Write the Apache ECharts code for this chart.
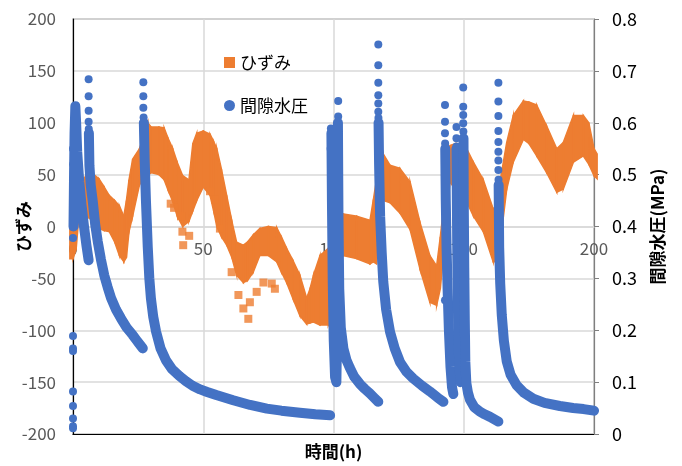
<!DOCTYPE html>
<html>
<head>
<meta charset="utf-8">
<script src="https://cdn.jsdelivr.net/npm/echarts@6/dist/echarts.min.js"></script>
<style>
html, body { margin: 0; padding: 0; background: #fff; }
#chart { width: 682px; height: 466px; }
</style>
</head>
<body>
<div id="chart"></div>
<script>
// ひずみ: 帯の上下端 (時間, 上端, 下端)
var strainX  = [-1.2, 0, 1.2, 2.2, 5, 8, 10, 12, 13.9, 16, 17.8, 19.5, 20.5, 21.5, 22.9, 25.5, 27.5, 28.7, 30, 33, 35, 36.5, 38.3, 40, 42.1, 44.5, 46, 47.5, 50, 52.6, 54, 55.2, 57, 59, 61, 62.8, 65.4, 67, 69.2, 71.7, 75, 78.2, 80, 82, 84.5, 87.1, 89.7, 91, 92.3, 94.8, 98, 98.8, 99.2, 103.8, 108.9, 114, 115.3, 116.5, 117.5, 119.1, 121.7, 125.5, 129.4, 133.2, 137, 139.6, 141, 142.2, 143.5, 144.7, 147, 149.8, 151.1, 153.7, 157.5, 161.3, 162.5, 163.9, 166.5, 169, 172.9, 175, 178, 181.8, 185.7, 188.2, 192.1, 195.9, 198, 200, 201.2];
var strainHi = [12, 12, 18, 40, 49, 50, 46, 38, 30, 25, 20, 10, 25, 45, 65, 75, 90, 100, 96, 96, 95, 85, 75, 62, 49, 45, 80, 90, 92, 89, 82, 75, 55, 30, 5, -15, -18, -15, -8, -2, 0, -1, -10, -21, -33, -47, -69, -60, -47, -28, -21, -18, 10, 12, 10, 6, 26, 45, 60, 70, 59, 56, 43, 4, -28, -38, -10, 17, 50, 78, 80, 78, 75, 62, 45, 17, 20, 43, 81, 107, 121, 120, 117, 97, 75, 81, 107, 107, 100, 75, 70];
var strainLo = [-31, -31, -22, 8, 10, 5, -2, -4, -5, -15, -28, -34, -30, -5, 10, 40, 49, 49, 52, 50, 45, 35, 24, 10, 0, 5, 15, 25, 38, 30, 15, 0, -10, -18, -30, -47, -54, -52, -44, -28, -28, -34, -44, -54, -70, -86, -94, -93, -92, -95, -95, -90, -31, -28, -31, -36, -34, -36, 20, 25, 23, 13, -3, -41, -73, -76, -60, -28, 10, 43, 35, 30, 24, 10, -5, -34, -34, -18, 36, 62, 84, 80, 68, 52, 33, 36, 62, 68, 60, 49, 46];
// ひずみ: 帯から外れた点
var strainDots = [[37.5, 22], [38.8, 18], [41.5, 10], [42, -5], [42.3, -18], [44.6, -9], [52.6, 34], [54.5, 26], [56.4, -2], [60.9, -44], [63.5, -66], [65.4, -79], [67.3, -89], [67.9, -73], [70.5, -63], [73.1, -54], [76.3, -55], [77.5, -60]];

// 間隙水圧 (MPa): 区間ごとの曲線
var pressureSeg1 = [[0.2, 0.40], [0.4, 0.50], [0.6, 0.58], [0.9, 0.632], [1.2, 0.60], [1.6, 0.545], [2.4, 0.486], [3.3, 0.44], [4.3, 0.397], [5.2, 0.362], [6.0, 0.335]];
var pressureSeg2 = [[6.1, 0.58], [6.3, 0.518], [6.8, 0.48], [7.6, 0.448], [8.5, 0.405], [9.5, 0.371], [10.7, 0.337], [12, 0.306], [13.3, 0.283], [14.6, 0.262], [16.5, 0.24], [18.4, 0.223], [20.6, 0.205], [22.9, 0.191], [24.8, 0.178], [26.8, 0.165]];
var pressureSeg3 = [[27.2, 0.60], [27.5, 0.53], [28.0, 0.45], [28.7, 0.36], [29.3, 0.30], [29.9, 0.262], [30.8, 0.226], [31.9, 0.197], [33.6, 0.165], [35.7, 0.142], [38, 0.125], [40.8, 0.112], [43.3, 0.102], [45.9, 0.093], [48.8, 0.086], [51.5, 0.081], [55, 0.075], [61.5, 0.065], [68, 0.056], [74.4, 0.049], [80, 0.045], [87.1, 0.041], [93, 0.038], [98.7, 0.036]];
var pressureSeg4 = [[99.2, 0.58], [99.4, 0.45], [99.7, 0.30], [100.1, 0.18], [100.6, 0.11], [101.1, 0.10], [101.4, 0.2], [101.6, 0.40], [101.7, 0.60], [101.9, 0.42], [102.2, 0.28], [102.8, 0.205], [103.8, 0.165], [105, 0.142], [106.3, 0.127], [108, 0.11], [110.2, 0.096], [112, 0.087], [114, 0.078], [115.6, 0.07], [117.2, 0.062]];
var pressureSeg5 = [[117.3, 0.60], [117.5, 0.52], [117.9, 0.42], [118.5, 0.35], [119.1, 0.294], [120.2, 0.24], [121.7, 0.197], [123.5, 0.165], [125.5, 0.139], [128, 0.12], [130.6, 0.107], [134, 0.093], [137, 0.082], [140, 0.07], [142.2, 0.062]];
var pressureSeg6 = [[142.9, 0.55], [143.1, 0.45], [143.4, 0.36], [143.8, 0.28], [144.3, 0.2], [144.9, 0.13], [145.5, 0.09], [146, 0.077]];
var pressureSeg7 = [[147.2, 0.55], [147.4, 0.42], [147.6, 0.30], [147.9, 0.2], [148.3, 0.13], [148.8, 0.10]];
var pressureSeg8 = [[149.9, 0.57], [150, 0.45], [150.2, 0.32], [150.4, 0.22], [150.6, 0.14], [151, 0.098], [151.6, 0.08], [152.4, 0.066], [154, 0.052], [156.2, 0.043], [158, 0.038], [160.1, 0.033], [163.3, 0.024]];
var pressureSeg9 = [[163.4, 0.48], [163.6, 0.36], [164, 0.29], [164.6, 0.229], [165.4, 0.18], [166.5, 0.14], [168, 0.114], [170.3, 0.094], [173, 0.08], [176.7, 0.068], [181, 0.06], [186.9, 0.054], [192, 0.05], [196, 0.048], [200, 0.045]];
// 間隙水圧: 離れた点
var pressureDots = [
  [0, 0.189], [0, 0.165], [0, 0.160], [0, 0.082], [0, 0.054], [0, 0.03], [0, 0.015], [0, 0.011],
  [0, 0.378], [0, 0.399], [0.1, 0.43], [0.1, 0.46], [0, 0.49], [0.1, 0.52], [0, 0.55],
  [6, 0.684], [6, 0.651], [6, 0.623], [6, 0.602], [6.05, 0.588],
  [27, 0.678], [27, 0.651], [27, 0.629], [27.1, 0.61],
  [101.8, 0.642], [101.8, 0.612], [101.7, 0.592], [99, 0.589], [99.3, 0.563], [98.9, 0.55], [99.1, 0.53],
  [117.2, 0.751], [117.2, 0.711], [117.2, 0.677], [117.2, 0.653], [117.2, 0.637], [117.2, 0.621], [117.25, 0.609],
  [142.8, 0.634], [142.8, 0.602], [142.8, 0.58], [142.85, 0.56], [142.8, 0.258],
  [147.2, 0.592], [147.2, 0.57], [147.2, 0.554], [149.8, 0.668], [149.8, 0.631], [149.8, 0.615], [149.8, 0.599], [149.85, 0.583],
  [163.3, 0.677], [163.3, 0.641], [163.3, 0.613], [163.3, 0.584], [163.3, 0.563], [163.3, 0.544], [163.3, 0.527], [163.3, 0.509], [163.35, 0.49]
];

var orange = '#ED7D31';
var blue = '#4472C4';
var font = 'Noto Sans CJK JP';

var chart = echarts.init(document.getElementById('chart'));

// 帯を隣り合う2点の四角形として描く
var bandData = strainX.slice(0, -1).map(function (x, i) {
  return [x, strainHi[i], strainLo[i], strainX[i + 1], strainHi[i + 1], strainLo[i + 1]];
});

var pressureSegs = [pressureSeg1, pressureSeg2, pressureSeg3, pressureSeg4, pressureSeg5, pressureSeg6, pressureSeg7, pressureSeg8, pressureSeg9];
var lineSeries = pressureSegs.map(function (seg) {
  return {
    name: '間隙水圧',
    type: 'line',
    xAxisIndex: 0,
    yAxisIndex: 1,
    data: seg,
    showSymbol: false,
    symbol: 'circle',
    lineStyle: { color: blue, width: 10, cap: 'round', join: 'round' },
    itemStyle: { color: blue },
    silent: true
  };
});

var option = {
  animation: false,
  textStyle: { fontFamily: font },
  grid: {
    left: 73, right: 88, top: 19, bottom: 32,
    outerBoundsMode: 'none',
    containLabel: false,
    show: true,
    borderColor: '#7f7f7f',
    borderWidth: 1.2
  },
  legend: {
    orient: 'vertical',
    left: 219,
    top: 49,
    itemWidth: 11,
    itemHeight: 11,
    itemGap: 26,
    textStyle: { fontSize: 17, color: '#000', fontFamily: font },
    data: [
      { name: 'ひずみ', icon: 'rect' },
      { name: '間隙水圧', icon: 'circle' }
    ]
  },
  xAxis: [
    {
      // 目盛ラベルはひずみ 0 の線上に置く
      type: 'value',
      min: 0, max: 200, interval: 50,
      position: 'bottom',
      offset: -207.5,
      axisLine: { onZero: false, lineStyle: { color: '#d9d9d9', width: 1.5 } },
      axisTick: { show: false },
      axisLabel: { color: '#595959', fontSize: 17, margin: 14 },
      splitLine: { lineStyle: { color: '#d9d9d9', width: 1.5 } }
    },
    {
      type: 'value',
      position: 'bottom',
      min: 0, max: 200, interval: 50,
      name: '時間(h)',
      nameLocation: 'middle',
      nameGap: 9,
      nameMoveOverlap: false,
      nameTextStyle: { fontSize: 17, color: '#000', fontWeight: 'bold', verticalAlign: 'top' },
      axisLine: { onZero: false, lineStyle: { color: '#000', width: 1.2 } },
      axisTick: { show: false },
      axisLabel: { show: false },
      splitLine: { show: false }
    }
  ],
  yAxis: [
    {
      type: 'value',
      min: -200, max: 200, interval: 50,
      position: 'left',
      name: 'ひずみ',
      nameLocation: 'middle',
      nameRotate: 90,
      nameGap: 41,
      nameMoveOverlap: false,
      nameTextStyle: { fontSize: 17, color: '#000', fontWeight: 'bold' },
      axisLine: { show: true, onZero: false, lineStyle: { color: '#000', width: 1.2 } },
      axisTick: { show: false },
      axisLabel: { color: '#595959', fontSize: 17, margin: 17 },
      splitLine: { lineStyle: { color: '#d9d9d9', width: 1.5 } }
    },
    {
      type: 'value',
      min: 0, max: 0.8, interval: 0.1,
      position: 'right',
      name: '間隙水圧(MPa)',
      nameLocation: 'middle',
      nameRotate: 90,
      nameGap: 55,
      nameMoveOverlap: false,
      nameTextStyle: { fontSize: 17, color: '#000', fontWeight: 'bold' },
      axisLine: { show: true, onZero: false, lineStyle: { color: '#7f7f7f', width: 1.2 } },
      axisTick: { show: true, length: 5, lineStyle: { color: '#7f7f7f' } },
      axisLabel: {
        color: '#000', fontSize: 18, margin: 18,
        formatter: function (v) { return v === 0 ? '0' : v.toFixed(1); }
      },
      splitLine: { show: false }
    }
  ],
  series: [
    {
      name: 'ひずみ',
      type: 'custom',
      xAxisIndex: 0,
      yAxisIndex: 0,
      data: bandData,
      encode: { x: [0, 3], y: [1, 2, 4, 5] },
      itemStyle: { color: orange },
      silent: true,
      renderItem: function (params, api) {
        var p1 = api.coord([api.value(0), api.value(1)]);
        var p2 = api.coord([api.value(3), api.value(4)]);
        var p3 = api.coord([api.value(3), api.value(5)]);
        var p4 = api.coord([api.value(0), api.value(2)]);
        return {
          type: 'polygon',
          shape: { points: [p1, p2, p3, p4] },
          style: { fill: orange, stroke: orange, lineWidth: 1.5 }
        };
      }
    },
    {
      name: 'ひずみ',
      type: 'scatter',
      xAxisIndex: 0,
      yAxisIndex: 0,
      symbol: 'rect',
      symbolSize: 8,
      itemStyle: { color: orange },
      data: strainDots,
      silent: true
    }
  ].concat(lineSeries).concat([
    {
      name: '間隙水圧',
      type: 'scatter',
      xAxisIndex: 0,
      yAxisIndex: 1,
      symbol: 'circle',
      symbolSize: 8,
      itemStyle: { color: blue, opacity: 1 },
      data: pressureDots,
      silent: true
    }
  ])
};

chart.setOption(option);
</script>
</body>
</html>
